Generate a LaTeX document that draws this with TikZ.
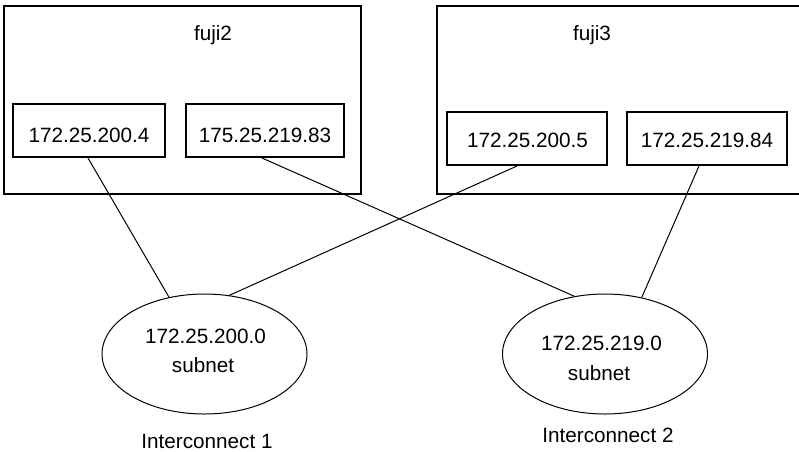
\documentclass[tikz,border=0pt]{standalone}
\usepackage{fontspec}
\setmainfont{Liberation Sans}
\usetikzlibrary{shapes.geometric}
\begin{document}
\begin{tikzpicture}[x=1pt,y=-1pt,
  hostbox/.style={draw, line width=2pt, inner sep=0pt},
  ipbox/.style={draw, line width=2pt, inner sep=0pt, minimum width=#1, minimum height=53pt},
  lbl/.style={anchor=base, inner sep=0pt, font=\fontsize{20.7pt}{24pt}\selectfont},
  subnetnode/.style={draw, ellipse, line width=1pt, inner sep=0pt, minimum width=205pt, minimum height=120pt},
  link/.style={line width=1pt}]
\useasboundingbox (0,0) rectangle (799,451);
% hosts
\node[hostbox, minimum width=357pt, minimum height=188pt] (h1) at (182.5,100) {};
\node[hostbox, minimum width=368pt, minimum height=188pt] (h2) at (621,100) {};
\node[lbl] (h1t) at (213,40.5) {fuji2};
\node[lbl] (h2t) at (592,40.5) {fuji3};
% interfaces
\node[ipbox=152pt] (b1) at (89,130.5) {};
\node[ipbox=158pt] (b2) at (265,130.5) {};
\node[ipbox=160pt] (b3) at (527,138.5) {};
\node[ipbox=160pt] (b4) at (707,138.5) {};
\node[lbl] (b1t) at (89,142) {172.25.200.4};
\node[lbl] (b2t) at (265,142) {175.25.219.83};
\node[lbl] (b3t) at (527.5,147.5) {172.25.200.5};
\node[lbl] (b4t) at (707,147.5) {172.25.219.84};
% subnets
\node[subnetnode] (e1) at (204.5,354) {};
\node[subnetnode] (e2) at (605,354) {};
\node[lbl] (e1a) at (205.5,343) {172.25.200.0};
\node[lbl] (e1b) at (203,372.5) {subnet};
\node[lbl] (e2a) at (601.5,350) {172.25.219.0};
\node[lbl] (e2b) at (599,380) {subnet};
\node[lbl] (i1) at (207,448) {Interconnect 1};
\node[lbl] (i2) at (608,442) {Interconnect 2};
% links
\draw[link] ([xshift=-1pt]b1.south) -- (e1.122);
\draw[link] ([xshift=-3pt]b2.south) -- (e2.118);
\draw[link] ([xshift=-10pt]b3.south) -- (e1.67);
\draw[link] ([xshift=-8pt]b4.south) -- (e2.57);
\end{tikzpicture}
\end{document}
